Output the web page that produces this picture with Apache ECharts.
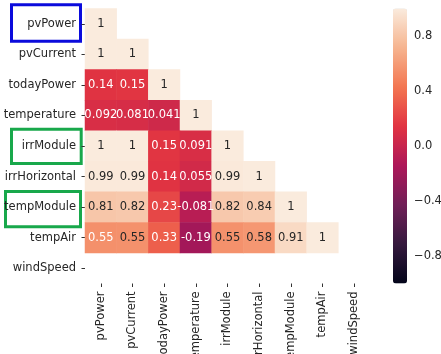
<!DOCTYPE html>
<html>
<head>
<meta charset="utf-8">
<script src="https://cdn.jsdelivr.net/npm/echarts@6/dist/echarts.min.js"></script>
<style>
html,body{margin:0;padding:0;background:#fff;}
#chart{width:441px;height:354px;}
</style>
</head>
<body>
<div id="chart"></div>
<script>
// ---- data ----
const variables = ['pvPower','pvCurrent','todayPower','temperature','irrModule','irrHorizontal','tempModule','tempAir','windSpeed'];
const rowPvPower      = [1];
const rowPvCurrent    = [1, 1];
const rowTodayPower   = [0.14, 0.15, 1];
const rowTemperature  = [0.092, 0.081, 0.041, 1];
const rowIrrModule    = [1, 1, 0.15, 0.091, 1];
const rowIrrHorizontal= [0.99, 0.99, 0.14, 0.055, 0.99, 1];
const rowTempModule   = [0.81, 0.82, 0.23, -0.081, 0.82, 0.84, 1];
const rowTempAir      = [0.548, 0.552, 0.33, -0.19, 0.552, 0.58, 0.91, 1];
const rowWindSpeed    = [];
const colorbarTicks   = [-0.8, -0.4, 0.0, 0.4, 0.8];

const rows = [rowPvPower,rowPvCurrent,rowTodayPower,rowTemperature,rowIrrModule,rowIrrHorizontal,rowTempModule,rowTempAir,rowWindSpeed];

function fmt(v){
  if (v === 1) return '1';
  return String(Number(v.toPrecision(2)));
}

const cells = [];
rows.forEach((r, yi) => {
  r.forEach((v, xi) => {
    cells.push({
      value: [xi, yi, v],
      label: { color: v > 0.55 ? '#262626' : '#ffffff' }
    });
  });
});

const rocket = ['#03051A','#35193e','#701f57','#ad1759','#e13342','#f37651','#f6b48f','#FAEBDD'];
const font = 'DejaVu Sans';
const fs = 11.5;

const chart = echarts.init(document.getElementById('chart'), null, {renderer:'canvas'});
chart.setOption({
  animation: false,
  backgroundColor: '#fff',
  textStyle: { fontFamily: font },
  grid: [
    { left: 85, top: 8.5, width: 285, height: 275, containLabel: false, outerBoundsMode: 'none' },
    { left: 393, top: 8.5, width: 14, height: 275, containLabel: false, outerBoundsMode: 'none' }
  ],
  xAxis: [
    {
      type: 'category', gridIndex: 0, data: variables,
      axisLine: { show: false },
      axisTick: { show: true, alignWithLabel: true, length: 3.5, lineStyle: { color: '#333' } },
      axisLabel: { rotate: 90, fontSize: fs, color: '#262626', fontFamily: font, margin: 8, interval: 0 },
      splitLine: { show: false }
    },
    { type: 'value', gridIndex: 1, show: false }
  ],
  yAxis: [
    {
      type: 'category', gridIndex: 0, data: variables, inverse: true,
      axisLine: { show: false },
      axisTick: { show: true, alignWithLabel: true, length: 3.5, lineStyle: { color: '#333' } },
      axisLabel: { fontSize: fs, color: '#262626', fontFamily: font, margin: 9, interval: 0 },
      splitLine: { show: false }
    },
    {
      type: 'value', gridIndex: 1, position: 'right', min: -1, max: 1,
      axisLine: { show: false },
      axisTick: { show: true, length: 3.5, lineStyle: { color: '#333' }, customValues: colorbarTicks },
      axisLabel: { fontSize: fs, color: '#262626', fontFamily: font, margin: 7,
        customValues: colorbarTicks,
        formatter: v => v.toFixed(1).replace('-', '\u2212') },
      splitLine: { show: false }
    }
  ],
  visualMap: {
    type: 'continuous', min: -1, max: 1, seriesIndex: 0,
    calculable: false, hoverLink: false,
    itemWidth: 14, itemHeight: 275,
    left: 393, top: 8.5, padding: 0,
    text: null, showLabel: false,
    inRange: { color: rocket }
  },
  series: [{
    type: 'heatmap', xAxisIndex: 0, yAxisIndex: 0,
    data: cells,
    label: { show: true, fontSize: fs, fontFamily: font, formatter: p => fmt(p.value[2]) },
    emphasis: { disabled: true }
  }],
  graphic: [
    { type: 'rect', shape: { x: 11.5, y: 4.8, width: 69, height: 36.4 }, style: { fill: 'none', stroke: '#0b0bdc', lineWidth: 3 } },
    { type: 'rect', shape: { x: 11.5, y: 129.2, width: 69.7, height: 34.3 }, style: { fill: 'none', stroke: '#18a84b', lineWidth: 3 } },
    { type: 'rect', shape: { x: 5.5, y: 191.5, width: 75, height: 35.3 }, style: { fill: 'none', stroke: '#18a84b', lineWidth: 3 } }
  ]
});
</script>
</body>
</html>
